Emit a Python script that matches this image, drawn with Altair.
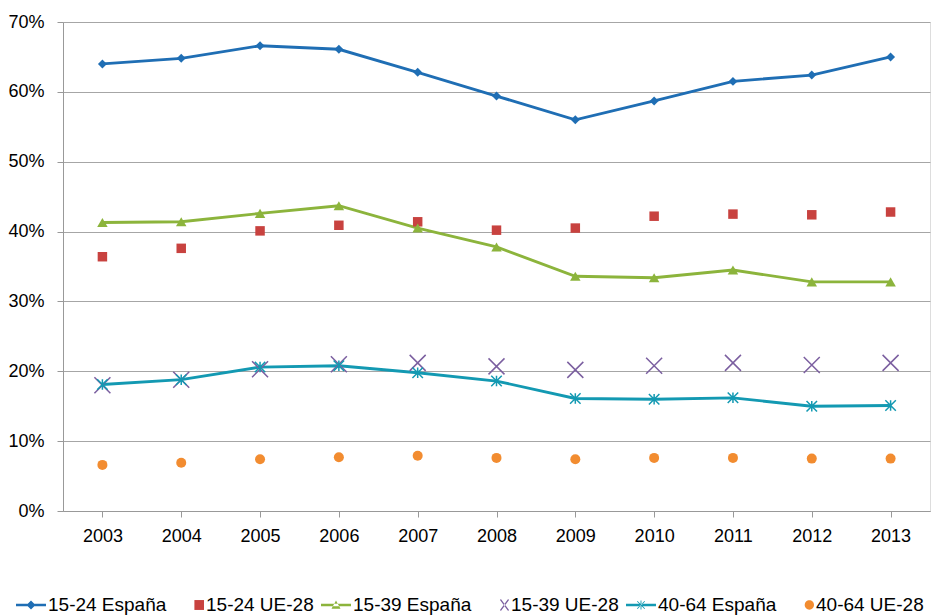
import altair as alt
import pandas as pd

years = ["2003", "2004", "2005", "2006", "2007", "2008", "2009", "2010", "2011", "2012", "2013"]
series = ["15-24 España", "15-24 UE-28", "15-39 España", "15-39 UE-28", "40-64 España", "40-64 UE-28"]
colors = ["#1F6EB4", "#C8423F", "#8CB43C", "#7B5FA0", "#1399B2", "#F28C30"]

v1524_es = [64.0, 64.8, 66.6, 66.1, 62.8, 59.4, 56.0, 58.7, 61.5, 62.4, 65.0]
v1524_eu = [36.4, 37.6, 40.1, 40.9, 41.4, 40.2, 40.5, 42.2, 42.5, 42.4, 42.8]
v1539_es = [41.3, 41.4, 42.6, 43.7, 40.5, 37.8, 33.6, 33.4, 34.5, 32.8, 32.8]
v1539_eu = [18.0, 18.8, 20.3, 21.0, 21.2, 20.7, 20.2, 20.8, 21.2, 20.9, 21.2]
v4064_es = [18.1, 18.8, 20.6, 20.8, 19.8, 18.6, 16.1, 16.0, 16.2, 15.0, 15.1]
v4064_eu = [6.6, 6.9, 7.4, 7.7, 7.9, 7.6, 7.4, 7.6, 7.6, 7.5, 7.5]

values = [v1524_es, v1524_eu, v1539_es, v1539_eu, v4064_es, v4064_eu]
rows = []
for s, vals in zip(series, values):
    for y, v in zip(years, vals):
        rows.append({"serie": s, "year": y, "value": v / 100.0})
df = pd.DataFrame(rows)

FONT = "Liberation Sans"

x_enc = alt.X("year:O", scale=alt.Scale(domain=years, paddingInner=0, paddingOuter=0),
              axis=alt.Axis(title=None, bandPosition=0, labelAngle=0, labelFontSize=18,
                            labelFont=FONT, labelColor="#000", tickSize=6, tickColor="#999",
                            domainColor="#999", labelPadding=10, grid=False))
y_enc = alt.Y("value:Q", scale=alt.Scale(domain=[0, 0.7], nice=False),
              axis=alt.Axis(title=None, values=[0, 0.1, 0.2, 0.3, 0.4, 0.5, 0.6, 0.7], format=".0%",
                            labelFontSize=18, labelFont=FONT, labelColor="#000", tickSize=6,
                            tickColor="#999", domainColor="#999", gridColor="#A6A6A6",
                            gridWidth=1, labelPadding=13))

base = alt.Chart(df)

def sel(s):
    return base.transform_filter(alt.datum.serie == s)

layers = []
# lines
for i in [0, 2, 4]:
    layers.append(sel(series[i]).mark_line(color=colors[i], strokeWidth=2.9).encode(x=x_enc, y=y_enc))

x_path = "M-1,-1L1,1M-1,1L1,-1"
ast_path = "M-1,-1L1,1M-1,1L1,-1M0,-1L0,1"

layers.append(sel(series[0]).mark_point(shape="diamond", filled=True, size=80, color=colors[0], opacity=1).encode(x=x_enc, y=y_enc))
layers.append(sel(series[1]).mark_point(shape="square", filled=True, size=90, color=colors[1], opacity=1).encode(x=x_enc, y=y_enc))
layers.append(sel(series[2]).mark_point(shape="triangle-up", filled=True, size=110, color=colors[2], opacity=1).encode(x=x_enc, y=y_enc))
layers.append(sel(series[3]).mark_point(shape=x_path, filled=False, size=256, color=colors[3], strokeWidth=1.5, opacity=1).encode(x=x_enc, y=y_enc))
layers.append(sel(series[4]).mark_point(shape=ast_path, filled=False, size=110, color=colors[4], strokeWidth=1.5, opacity=1).encode(x=x_enc, y=y_enc))
layers.append(sel(series[5]).mark_point(shape="circle", filled=True, size=100, color=colors[5], opacity=1).encode(x=x_enc, y=y_enc))

# legend symbols (custom paths inside a 30px slot)
line_rect = "M-1,-0.09L1,-0.09L1,0.09L-1,0.09Z"
leg_paths = [
    line_rect + "M-0.3,0L0,-0.3L0.3,0L0,0.3Z",
    "M0.36,-0.33L1,-0.33L1,0.33L0.36,0.33Z",
    line_rect + "M-0.3,0.25L0.3,0.25L0,-0.3Z",
    "M0.4,-0.34L0.46,-0.4L1,0.34L0.94,0.4Z M1,-0.34L0.94,-0.4L0.4,0.34L0.46,0.4Z",
    line_rect + "M-0.27,-0.23L-0.23,-0.27L0.27,0.23L0.23,0.27Z M0.27,-0.23L0.23,-0.27L-0.27,0.23L-0.23,0.27Z M-0.03,-0.3L0.03,-0.3L0.03,0.3L-0.03,0.3Z",
    "M1,0A0.31,0.31 0 1,1 0.38,0A0.31,0.31 0 1,1 1,0Z",
]

leg = alt.Legend(orient="none", legendX=-47, legendY=568, direction="horizontal", columns=6,
                 title=None, symbolSize=900, labelFontSize=19, labelFont=FONT, labelColor="#000",
                 labelOffset=2, columnPadding=7, symbolStrokeWidth=0, symbolOpacity=1)

legend_layer = base.transform_filter("false").mark_point(filled=True, strokeWidth=0, opacity=1).encode(
    color=alt.Color("serie:N", scale=alt.Scale(domain=series, range=colors), legend=leg),
    shape=alt.Shape("serie:N", scale=alt.Scale(domain=series, range=leg_paths), legend=leg),
)
layers.append(legend_layer)

chart = alt.layer(*layers).properties(
    width=867, height=489,
    autosize=alt.AutoSizeParams(type="none"),
    padding={"left": 55, "top": 14, "right": 3, "bottom": 105},
).configure_view(stroke=None).configure(background="white")

chart.save("out.html", embed_options={"renderer": "svg", "actions": False})
